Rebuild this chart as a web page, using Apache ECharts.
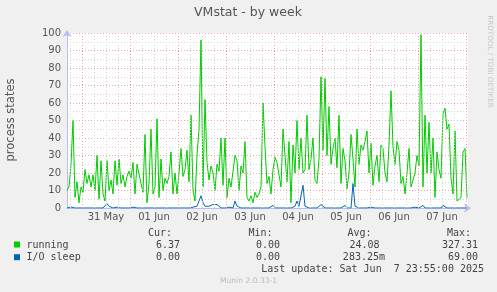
<!DOCTYPE html>
<html>
<head>
<meta charset="utf-8">
<script src="https://cdn.jsdelivr.net/npm/echarts@6/dist/echarts.min.js"></script>
<style>
  html, body { margin: 0; padding: 0; background: #f0f0f0; }
  #chart { width: 497px; height: 292px; }
</style>
</head>
<body>
<div id="chart"></div>
<script>
// hours counted from 30 May 00:00, one sample per hour starting 16:30
var startHour = 16.5;
var endHour = 217;

var running = [
  10, 12, 25, 50, 6, 15, 3, 12, 9, 22, 14, 19, 12, 19, 10, 30, 5, 27, 8, 4,
  27, 10, 16, 8, 27, 13, 28, 14, 19, 12, 18, 21, 17, 26,
  8, 25, 24, 14, 9, 42, 3, 14, 45, 8, 12, 51, 6, 28, 10, 17, 14, 18, 32, 8,
  20, 8, 20, 34, 18, 22, 33, 15, 53, 10, 4, 30, 45,
  96, 12, 62, 26, 16, 24, 20, 10, 25, 21, 40, 13, 40, 6, 17, 12, 12, 30, 27, 10,
  24, 20, 38, 6, 4, 7, 3, 9, 6, 8, 12, 60, 35,
  14, 18, 8, 22, 29, 26, 26, 12, 45, 30, 15, 38, 3, 36, 20, 50, 22, 40, 20, 22,
  53, 22, 28, 40, 16, 14, 28, 75, 33, 74, 30, 58, 25,
  34, 40, 23, 53, 14, 34, 27, 11, 20, 42, 28, 12, 45, 25, 36, 33, 38, 44, 20, 37,
  13, 24, 30, 15, 36, 34, 20, 15, 36, 67, 35, 25, 38,
  33, 14, 18, 8, 20, 34, 12, 12, 20, 30, 24, 99, 12, 53, 20, 49, 20, 40, 6, 32,
  22, 17, 54, 57, 45, 48, 17, 8, 44, 4, 4, 6, 32, 34, 6
];

var ioSleep = [
  0, 0, 0.5, 0, 0, 0, 0, 0, 0, 0,
  0, 0, 0, 0, 0, 0, 0, 0, 0, 0,
  2.5, 1, 0, 0, 0, 0.5, 0, 0, 0, 0,
  0, 0, 0, 0.5, 0, 0, 0, 0, 0.5, 0,
  0, 0, 0, 0, 0, 0, 0, 0, 0, 0,
  0, 0, 0, 0, 0, 0, 0, 0, 0, 0,
  0, 0, 0, 0.5, 0, 1, 4, 7, 3, 1,
  0, 1, 0, 2, 1.5, 2, 1, 0, 0, 0,
  0, 0.5, 0, 0, 4, 1, 0, 0, 0, 0,
  0, 0, 0.5, 0, 0, 0, 0, 0, 0.5, 0,
  0, 0, 0, 1.5, 0, 0, 0, 0, 0, 0.5,
  0, 0, 0, 0, 1, 4, 1, 0, 13, 1,
  0, 0, 0, 0, 0, 0, 0, 2, 1, 0,
  0, 0, 0, 0, 0, 0, 0.5, 0, 0, 1.5,
  0, 0, 0, 14, 1, 0, 0, 0, 0, 0,
  0, 1, 0.5, 0, 0, 0, 0, 0, 0, 0.5,
  0, 0, 0, 0, 0, 0.5, 0, 0, 0, 0,
  0, 0, 0, 0, 0.5, 0, 0, 0, 1.5, 0,
  0, 0, 0, 0, 0, 0, 0, 0, 1.5, 2.5,
  0, 0, 0, 0, 0, 0, 0, 0.5, 0, 0,
  0
];

var dayLabels = ["31 May", "01 Jun", "02 Jun", "03 Jun", "04 Jun", "05 Jun", "06 Jun", "07 Jun"];
var labelHours = [36, 60, 84, 108, 132, 156, 180, 204];
var majorHours = [24, 48, 72, 96, 120, 144, 168, 192, 216];
var minorHours = [];
for (var h = 18; h < endHour; h += 6) {
  if (h % 24 !== 0) minorHours.push(h);
}

var legendHead = ["Cur:", "Min:", "Avg:", "Max:"];
var runningStats = ["6.37", "0.00", "24.08", "327.31"];
var ioStats = ["0.00", "0.00", "283.25m", "69.00"];

var RED = "#f2a4a4";
var GREY = "#d4d4d4";
var AXIS = "#b8bdf0";

function pairs(vals) {
  return vals.map(function (v, i) { return [startHour + i, v]; });
}

var gridLines = majorHours.map(function (h) {
  return { xAxis: h, lineStyle: { color: RED, type: [1, 2], width: 1 } };
}).concat(minorHours.map(function (h) {
  return { xAxis: h, lineStyle: { color: GREY, type: [1, 2], width: 1 } };
}));

var mono = '10px "DejaVu Sans Mono"';
var colHead = [172, 272.5, 371.5, 471];
var colVal = [180, 280, 379.5, 478];
var colValIo = [180, 280, 385, 478];

var graphics = [
  { type: "text", x: 248, y: 13, style: { text: "VMstat - by week", fill: "#555", font: '12.5px "DejaVu Sans"', textAlign: "center", textVerticalAlign: "middle" } },
  { type: "text", x: 11, y: 120, rotation: Math.PI / 2, style: { text: "process states", fill: "#555", font: '11.5px "DejaVu Sans"', textAlign: "center", textVerticalAlign: "middle" } },
  { type: "text", x: 489.5, y: 61.5, rotation: -Math.PI / 2, style: { text: "RRDTOOL / TOBI OETIKER", fill: "#c8c8c8", font: '7.2px "DejaVu Sans"', textAlign: "center", textVerticalAlign: "middle" } },
  { type: "rect", shape: { x: 14, y: 241.5, width: 6, height: 6 }, style: { fill: "#00cc00" } },
  { type: "rect", shape: { x: 14, y: 254.2, width: 6, height: 6 }, style: { fill: "#0066b3" } },
  { type: "text", x: 26.5, y: 245.3, style: { text: "running", fill: "#444", font: mono, textAlign: "left", textVerticalAlign: "middle" } },
  { type: "text", x: 26.5, y: 257.7, style: { text: "I/O sleep", fill: "#444", font: mono, textAlign: "left", textVerticalAlign: "middle" } },
  { type: "text", x: 484, y: 269.7, style: { text: "Last update: Sat Jun  7 23:55:00 2025", fill: "#444", font: mono, textAlign: "right", textVerticalAlign: "middle" } },
  { type: "text", x: 248.5, y: 281, style: { text: "Munin 2.0.33-1", fill: "#bbb", font: '7.6px "DejaVu Sans"', textAlign: "center", textVerticalAlign: "middle" } }
];
legendHead.forEach(function (t, i) {
  graphics.push({ type: "text", x: colHead[i], y: 233.3, style: { text: t, fill: "#444", font: mono, textAlign: "right", textVerticalAlign: "middle" } });
  graphics.push({ type: "text", x: colVal[i], y: 245.3, style: { text: runningStats[i], fill: "#444", font: mono, textAlign: "right", textVerticalAlign: "middle" } });
  graphics.push({ type: "text", x: colValIo[i], y: 257.7, style: { text: ioStats[i], fill: "#444", font: mono, textAlign: "right", textVerticalAlign: "middle" } });
});

var chart = echarts.init(document.getElementById("chart"), null, { renderer: "canvas" });
var option = {
  animation: false,
  backgroundColor: "#f0f0f0",
  grid: { left: 67, right: 29, top: 33, bottom: 84, show: true, backgroundColor: "#fff", borderWidth: 0 },
  xAxis: {
    type: "value",
    min: startHour,
    max: endHour,
    axisLine: { show: true, lineStyle: { color: AXIS, width: 1 }, symbol: ["none", "arrow"], symbolSize: [7, 7], symbolOffset: [0, 3] },
    axisTick: { show: false },
    splitLine: { show: false },
    axisLabel: {
      customValues: labelHours,
      formatter: function (v) { var k = labelHours.indexOf(v); return k >= 0 ? dayLabels[k] : ""; },
      color: "#555",
      fontSize: 10,
      fontFamily: "DejaVu Sans",
      margin: 4
    }
  },
  yAxis: {
    type: "value",
    min: 0,
    max: 100,
    interval: 5,
    axisLine: { show: true, lineStyle: { color: AXIS, width: 1 }, symbol: ["none", "arrow"], symbolSize: [7, 7], symbolOffset: [0, 3] },
    axisTick: { show: false },
    splitLine: { show: true, lineStyle: { color: [RED, GREY], type: [1, 2], width: 1 } },
    axisLabel: {
      formatter: function (v) { return v % 10 === 0 ? String(v) : ""; },
      color: "#555",
      fontSize: 10,
      fontFamily: "DejaVu Sans",
      margin: 6
    }
  },
  graphic: graphics,
  series: [
    {
      name: "grid",
      type: "line",
      data: [],
      z: 1,
      silent: true,
      markLine: { silent: true, symbol: ["none", "none"], label: { show: false }, emphasis: { disabled: true }, data: gridLines }
    },
    {
      name: "running",
      type: "line",
      data: pairs(running),
      showSymbol: false,
      z: 3,
      lineStyle: { color: "#00cc00", width: 1 },
      itemStyle: { color: "#00cc00" }
    },
    {
      name: "I/O sleep",
      type: "line",
      data: pairs(ioSleep),
      showSymbol: false,
      z: 4,
      lineStyle: { color: "#0066b3", width: 1 },
      itemStyle: { color: "#0066b3" }
    }
  ]
};
chart.setOption(option);
</script>
</body>
</html>
